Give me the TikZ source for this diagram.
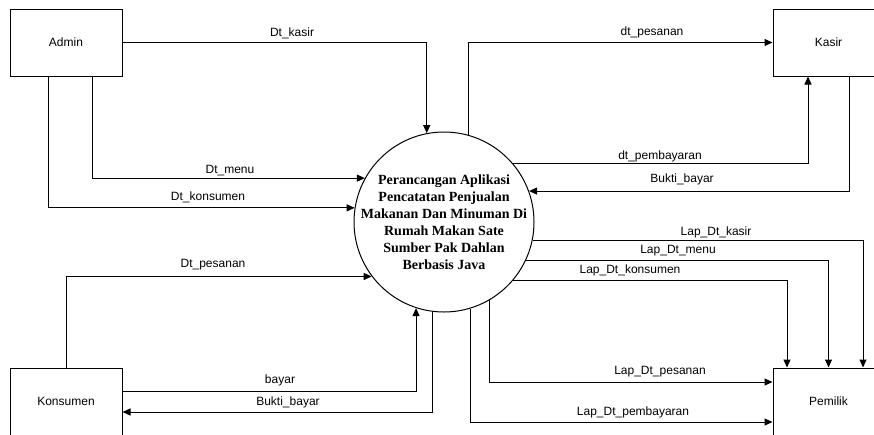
\documentclass[tikz,border=0pt]{standalone}
\usepackage{fontspec}
\setmainfont{Liberation Serif}
\setsansfont{Liberation Sans}
\usetikzlibrary{arrows.meta}
\begin{document}
\begin{tikzpicture}[x=1pt,y=-1pt,
  ent/.style={draw, line width=1pt, minimum width=112pt, minimum height=67pt, inner sep=0pt,
    font=\sffamily\fontsize{12}{14}\selectfont},
  proc/.style={draw, circle, line width=1pt, minimum size=180pt, inner sep=0pt},
  flow/.style={line width=1pt, -{Triangle[length=8pt,width=7pt]}},
  lbl/.style={font=\sffamily\fontsize{12}{14}\selectfont, inner sep=0pt}
]
\useasboundingbox (0,0) rectangle (874,434);
\fill[white] (0,0) rectangle (874,434);

\node[ent] (admin) at (66,42.5) {Admin};
\node[ent, minimum width=111pt] (kasir) at (828.5,42.5) {Kasir};
\node[ent] (konsumen) at (66,401.5) {Konsumen};
\node[ent, minimum width=111pt] (pemilik) at (828.5,401.5) {Pemilik};
\node[proc] (proc) at (444,222) {};
\node[align=center, font=\bfseries\fontsize{14}{17}\selectfont, inner sep=0pt] (proctext) at (444,222.5)
  {Perancangan Aplikasi\\Pencatatan Penjualan\\Makanan Dan Minuman Di\\Rumah Makan Sate\\Sumber Pak Dahlan\\Berbasis Java};

% Admin flows
\draw[flow] (admin.east) -| (proc.101.5);
\node[lbl] (l1) at (292,33) {Dt\_kasir};
\draw[flow] ([xshift=26pt]admin.south) |- (proc.151.5);
\node[lbl] (l2) at (230,171) {Dt\_menu};
\draw[flow] ([xshift=-18pt]admin.south) |- (proc.171);
\node[lbl] (l3) at (208,197) {Dt\_konsumen};

% Kasir flows
\draw[flow] (proc.74.5) |- (kasir.west);
\node[lbl] (l4) at (652,32) {dt\_pesanan};
\draw[flow] (proc.40.1) -| ([xshift=-20.5pt]kasir.south);
\node[lbl] (l5) at (660,156) {dt\_pembayaran};
\draw[flow] ([xshift=20.5pt]kasir.south) |- (proc.20.1);
\node[lbl] (l6) at (682,179) {Bukti\_bayar};

% Pemilik flows
\draw[flow] (proc.-12.8) -| ([xshift=34.5pt]pemilik.north);
\node[lbl] (l7) at (716,232) {Lap\_Dt\_kasir};
\draw[flow] (proc.-25.7) -| (pemilik.north);
\node[lbl] (l8) at (678,251) {Lap\_Dt\_menu};
\draw[flow] (proc.-40.1) -| ([xshift=-41.5pt]pemilik.north);
\node[lbl] (l9) at (630,270) {Lap\_Dt\_konsumen};
\draw[flow] (proc.-60) |- ([yshift=19.5pt]pemilik.west);
\node[lbl] (l10) at (660,372) {Lap\_Dt\_pesanan};
\draw[flow] (proc.-73.9) |- ([yshift=-20.5pt]pemilik.west);
\node[lbl] (l11) at (633,412) {Lap\_Dt\_pembayaran};

% Konsumen flows
\draw[flow] (konsumen.north) |- (proc.217.7);
\node[lbl] (l12) at (213,265) {Dt\_pesanan};
\draw[flow] ([yshift=10.5pt]konsumen.east) -| (proc.-108.1);
\node[lbl] (l13) at (280,380) {bayar};
\draw[flow] (proc.-97) |- ([yshift=-10.5pt]konsumen.east);
\node[lbl] (l14) at (288,402) {Bukti\_bayar};
\end{tikzpicture}
\end{document}
